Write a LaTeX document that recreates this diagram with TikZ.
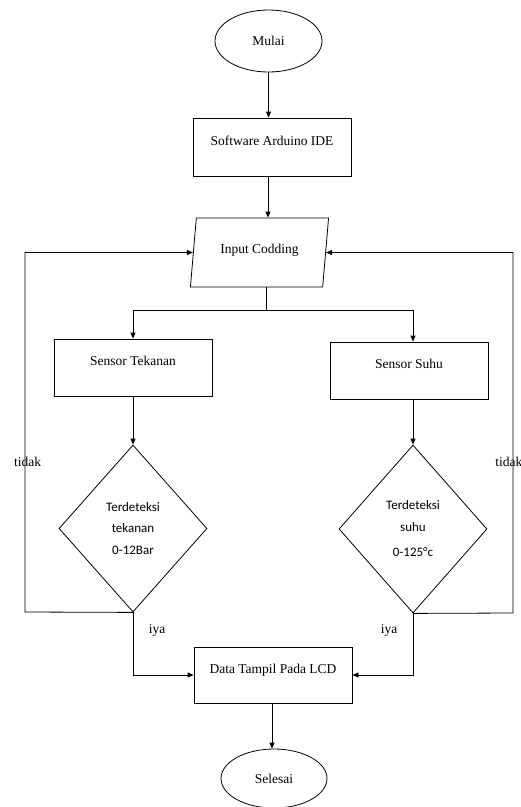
\documentclass[tikz,border=0pt]{standalone}
\usepackage{fontspec}
\setmainfont{Liberation Serif}
\newfontfamily\calibrifont{Carlito}
\usetikzlibrary{shapes.geometric,arrows.meta}
\begin{document}
\begin{tikzpicture}[x=1pt,y=-1pt,line width=0.8pt,
  arr/.style={-{Triangle[length=6pt,width=5pt]}},
  terminal/.style={draw,ellipse,inner sep=0pt,font=\fontsize{13.5}{16}\selectfont},
  prosesbox/.style={draw,rectangle,minimum width=158pt,minimum height=57pt,inner sep=0pt,
    text height=10pt,text depth=14pt,font=\fontsize{13.5}{16}\selectfont},
  inputbox/.style={draw,trapezium,trapezium left angle=78.5,trapezium right angle=101.5,
    trapezium stretches=true,minimum width=139pt,minimum height=69pt,inner sep=0pt,
    text height=10pt,text depth=8pt,font=\fontsize{13.5}{16}\selectfont},
  cekbox/.style={draw,diamond,minimum width=148pt,minimum height=167pt,inner sep=0pt,
    align=center,font=\calibrifont\fontsize{13}{21.5}\selectfont},
  ket/.style={inner sep=0pt,font=\fontsize{13.5}{16}\selectfont}]
\useasboundingbox (0,0) rectangle (521,807);
% alur utama
\node[terminal,minimum width=107pt,minimum height=62pt] (mulai) at (268.5,41) {Mulai};
\node[prosesbox,minimum height=58pt] (software) at (272,147) {Software Arduino IDE};
\node[inputbox] (input) at (259.5,252.5) {Input Codding};
\node[prosesbox] (tekanan) at (133,367.5) {Sensor Tekanan};
\node[prosesbox] (suhu) at (409,370.5) {Sensor Suhu};
\node[cekbox] (cektekanan) at (133,528.5) {Terdeteksi\\tekanan\\0-12Bar};
\node[cekbox,minimum height=168pt] (ceksuhu) at (413,529) {Terdeteksi\\suhu\\[4pt]0-125°c};
\node[prosesbox,minimum height=56pt] (data) at (273,675) {Data Tampil Pada LCD};
\node[terminal,minimum width=106pt,minimum height=59pt] (selesai) at (274,778.5) {Selesai};
% titik bantu
\coordinate (cabang) at (266,310);
\coordinate (kiri) at (25,612);
\coordinate (kanan) at (513,613);
% panah
\draw[arr] (mulai.south) -- (mulai.south |- software.north);
\draw[arr] (software.south -| 268,0) -- (input.north -| 268,0);
\draw (input.south -| cabang) -- (cabang);
\draw[arr] (cabang) -| (tekanan.north);
\draw[arr] (cabang) -| (suhu.north -| ceksuhu.north);
\draw[arr] (tekanan.south) -- (cektekanan.north);
\draw[arr] (ceksuhu.north |- suhu.south) -- (ceksuhu.north);
\draw[arr] (cektekanan.south) -- (kiri) |- (input.west);
\draw[arr] (ceksuhu.south) -- (kanan) |- (input.east);
\draw[arr] (cektekanan.south) |- (data.west);
\draw[arr] (ceksuhu.south) |- (data.east);
\draw[arr] (data.south -| 272,0) -- (selesai.north -| 272,0);
% keterangan
\node[ket] (tidakkiri) at (27.5,462) {tidak};
\node[ket,anchor=west] (tidakkanan) at (495,462) {tidak};
\node[ket] (iyakiri) at (157,630) {iya};
\node[ket] (iyakanan) at (389,630) {iya};
\end{tikzpicture}
\end{document}
